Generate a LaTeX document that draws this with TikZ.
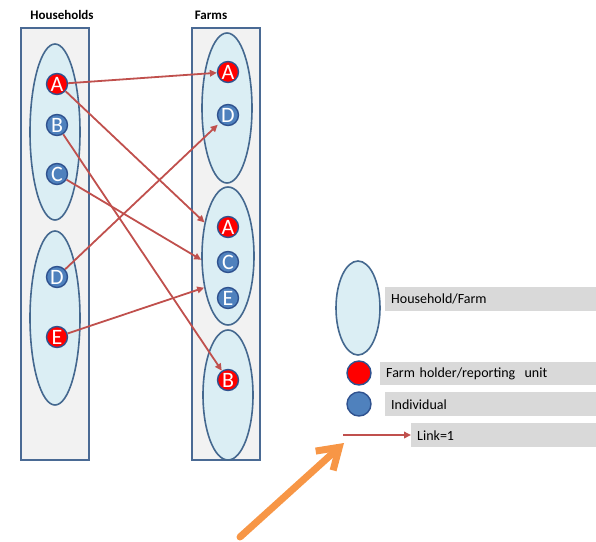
\documentclass[tikz,border=0pt]{standalone}
\usepackage{fontspec}
\setmainfont{Carlito}
\usetikzlibrary{arrows.meta, shapes.geometric}
\definecolor{panelgray}{HTML}{F2F2F2}
\definecolor{panelline}{HTML}{4A6A94}
\definecolor{grpfill}{HTML}{DBEEF4}
\definecolor{grpline}{HTML}{44688F}
\definecolor{dotline}{HTML}{2F528F}
\definecolor{holdred}{HTML}{FF0000}
\definecolor{indivblue}{HTML}{4F81BD}
\definecolor{linkred}{HTML}{C0504D}
\definecolor{bargray}{HTML}{D9D9D9}
\definecolor{pointorange}{HTML}{F79646}

\begin{document}
\begin{tikzpicture}[x=1pt, y=-1pt,
  panel/.style={draw=panelline, fill=panelgray, line width=2pt, minimum width=68pt, minimum height=432pt, inner sep=0pt},
  group/.style={ellipse, draw=grpline, fill=grpfill, line width=1.6pt, inner sep=0pt},
  person/.style={circle, draw=dotline, line width=1.4pt, minimum size=21pt, inner sep=0pt, text=white, font=\fontsize{22}{22}\selectfont},
  holder/.style={person, fill=holdred},
  indiv/.style={person, fill=indivblue},
  link/.style={draw=linkred, line width=1.8pt, -{Triangle[length=7pt,width=6.5pt]}},
  pointer/.style={draw=pointorange, line width=7pt, line cap=round, -{Straight Barb[length=20pt,width=26pt]}},
  bar/.style={fill=bargray, anchor=north west, inner xsep=6pt, minimum height=24pt, align=left, font=\fontsize{14}{14}\selectfont},
  head/.style={font=\bfseries\fontsize{13}{13}\selectfont}]
  \useasboundingbox (0,0) rectangle (596,541);

  \node[head] (hhead) at (62,15) {Households};
  \node[head] (fhead) at (211,15) {Farms};
  \node[panel] (hh) at (54.5,243.5) {};
  \node[panel] (fm) at (226,243.5) {};

  \node[group, minimum width=50pt, minimum height=176pt] (hg1) at (55,132) {};
  \node[group, minimum width=50pt, minimum height=174pt] (hg2) at (55,318) {};
  \node[group, minimum width=50pt, minimum height=150pt] (fg1) at (227,108) {};
  \node[group, minimum width=52pt, minimum height=138pt] (fg2) at (228,256) {};
  \node[group, minimum width=50pt, minimum height=130pt] (fg3) at (228,395) {};

  \node[holder] (hA) at (57,84) {A};
  \node[indiv] (hB) at (57,125) {B};
  \node[indiv] (hC) at (57,174) {C};
  \node[indiv] (hD) at (57,277) {D};
  \node[holder] (hE) at (57,337) {E};
  \node[holder] (fA1) at (228,72) {A};
  \node[indiv] (fD) at (228,115) {D};
  \node[holder] (fA2) at (228,227) {A};
  \node[indiv] (fC) at (228,262) {C};
  \node[indiv] (fE) at (228,298) {E};
  \node[holder] (fB) at (228,380) {B};

  \draw[link] (hA) -- (fA1);
  \draw[link] (hA.-40) -- (fg2.125);
  \draw[link] (hB) -- (fB);
  \draw[link] (hC) -- (fg2.188);
  \draw[link, shorten >=3pt] (hD) -- (fD);
  \draw[link] (hE) -- (fg2.233);

  \node[group, minimum width=44pt, minimum height=94pt] (lgrp) at (358,308) {};
  \node[holder, minimum size=24pt] (lhold) at (359,373) {};
  \node[indiv, minimum size=24pt] (lind) at (359,404) {};
  \node[bar, text width=199pt] (grpbar) at (385,287) {Household/Farm};
  \node[bar, text width=204pt, minimum height=23pt] (holdbar) at (380,362) {Farm holder/reporting\ \ unit};
  \node[bar, text width=199pt] (indbar) at (385,392) {Individual};
  \node[bar, text width=173pt] (lnkbar) at (411,423) {Link=1};
  \coordinate (lk) at (343,435);
  \draw[link] (lk) -- (lk -| lnkbar.west);

  \coordinate (ptr) at (240,537);
  \coordinate (ptrtip) at (344,443);
  \draw[pointer] (ptr) -- (ptrtip);
\end{tikzpicture}
\end{document}
